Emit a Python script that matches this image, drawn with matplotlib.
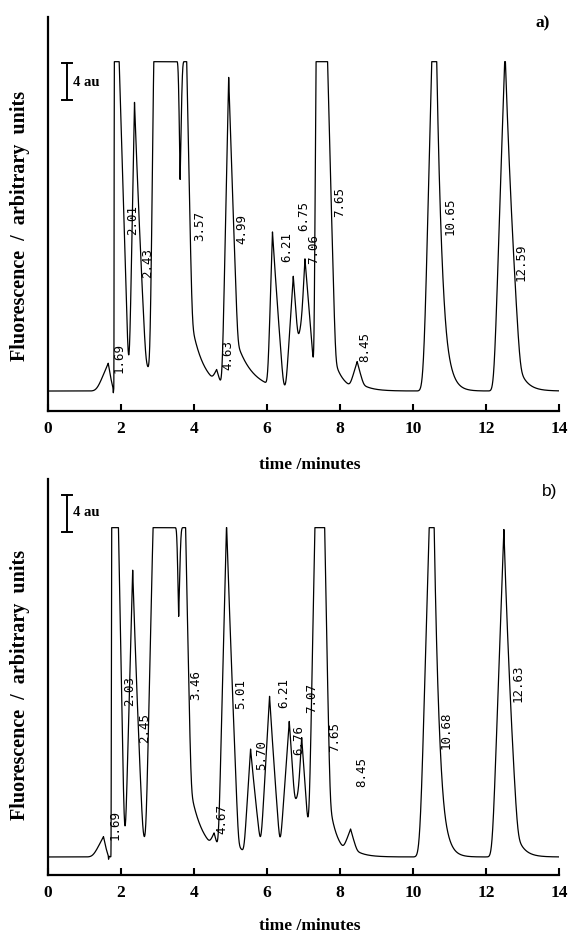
import math
import numpy as np
import matplotlib
matplotlib.use("Agg")
import matplotlib.pyplot as plt

# ---------------- data ----------------
FULL_SCALE = 35.6          # recorder full-scale (au above baseline)
time_ticks = [0, 2, 4, 6, 8, 10, 12, 14]

# panel a) peaks: top start / top end (min), height (au), rise & fall width (min),
# tail fraction, tail time (min), foot rounding (min)
a_top_start = [1.65, 1.79, 1.815, 2.37, 2.90, 3.62, 4.62, 4.95, 6.15, 6.72, 7.04, 7.34, 8.47, 10.51, 12.52]
a_top_end   = [1.65, 1.79, 1.95, 2.37, 3.80, 3.62, 4.62, 4.95, 6.15, 6.72, 7.04, 7.66, 8.47, 10.65, 12.52]
a_height    = [3.0, -0.5, 35.6, 31.2, 35.6, -12.8, 1.3, 33.5, 16.6, 12.2, 14.2, 35.6, 2.9, 35.6, 37.0]
a_rise      = [0.32, 0.012, 0.008, 0.15, 0.105, 0.05, 0.12, 0.18, 0.13, 0.20, 0.19, 0.05, 0.20, 0.22, 0.305]
a_fall      = [0.13, 0.012, 0.27, 0.31, 0.15, 0.06, 0.12, 0.25, 0.30, 0.23, 0.29, 0.22, 0.18, 0.25, 0.42]
a_tail_frac = [0, 0, 0, 0.35, 0.3, 0, 0, 0.25, 0.1, 0, 0, 0.2, 0.3, 0.9, 0.4]
a_tail_time = [0.1, 0.1, 0.1, 0.25, 0.35, 0.1, 0.1, 0.45, 0.15, 0.1, 0.1, 0.25, 0.3, 0.16, 0.22]
a_round     = [0.08, 0.03, 0.03, 0.03, 0.03, 0.03, 0.04, 0.03, 0.03, 0.03, 0.03, 0.03, 0.04, 0.06, 0.05]

a_labels  = ["1.69", "2.01", "2.43", "3.57", "4.63", "4.99", "6.21", "6.75", "7.06", "7.65", "8.45", "10.65", "12.59"]
a_label_t = [1.95, 2.33, 2.74, 4.15, 4.93, 5.32, 6.55, 7.01, 7.29, 8.00, 8.68, 11.01, 12.96]
a_label_y = [3.6, 18.5, 13.8, 17.8, 3.9, 17.5, 15.6, 18.9, 15.4, 20.4, 4.8, 18.9, 13.9]

# panel b) peaks
b_top_start = [1.52, 1.66, 1.74, 2.32, 2.88, 3.58, 4.55, 4.89, 5.55, 6.07, 6.61, 6.95, 7.31, 8.29, 10.44, 12.49]
b_top_end   = [1.52, 1.66, 1.93, 2.32, 3.77, 3.58, 4.55, 4.89, 5.55, 6.07, 6.61, 6.95, 7.58, 8.29, 10.58, 12.49]
b_height    = [2.2, -0.4, 35.6, 31.0, 35.6, -9.6, 1.45, 35.8, 11.4, 17.3, 14.6, 12.9, 35.6, 2.6, 35.6, 35.4]
b_rise      = [0.29, 0.012, 0.01, 0.21, 0.20, 0.05, 0.12, 0.22, 0.18, 0.25, 0.26, 0.19, 0.17, 0.20, 0.25, 0.32]
b_fall      = [0.12, 0.012, 0.17, 0.28, 0.15, 0.06, 0.12, 0.33, 0.30, 0.30, 0.25, 0.23, 0.15, 0.18, 0.25, 0.38]
b_tail_frac = [0, 0, 0, 0.3, 0.3, 0, 0, 0.15, 0.1, 0.1, 0, 0, 0.3, 0.3, 0.9, 0.4]
b_tail_time = [0.1, 0.1, 0.1, 0.2, 0.35, 0.1, 0.1, 0.2, 0.15, 0.15, 0.1, 0.1, 0.22, 0.3, 0.15, 0.2]
b_round     = [0.08, 0.03, 0.03, 0.03, 0.03, 0.03, 0.04, 0.03, 0.03, 0.03, 0.03, 0.03, 0.03, 0.04, 0.06, 0.05]

b_labels  = ["1.69", "2.03", "2.45", "3.46", "4.67", "5.01", "5.70", "6.21", "6.76", "7.07", "7.65", "8.45", "10.68", "12.63"]
b_label_t = [1.84, 2.25, 2.66, 4.05, 4.77, 5.29, 5.84, 6.47, 6.88, 7.23, 7.84, 8.60, 10.90, 12.88]
b_label_y = [3.5, 17.9, 13.9, 18.6, 4.1, 17.6, 11.0, 17.7, 12.6, 17.2, 13.0, 9.2, 13.7, 18.8]

SCALE_AU = 4

_erf = np.vectorize(math.erf)


def soft_ramp(x, d):
    """max(0, x) with its corner rounded over a half-width d."""
    z = x / d
    cdf = 0.5 * (1 + _erf(z / math.sqrt(2)))
    pdf = np.exp(-0.5 * z * z) / math.sqrt(2 * math.pi)
    return x * cdf + d * pdf


def chromatogram(t, starts, ends, heights, rises, falls, fracs, taus, rounds):
    y = np.zeros_like(t)
    for t1, t2, h, wl, wr, f, tau, r in zip(starts, ends, heights, rises, falls, fracs, taus, rounds):
        p = np.zeros_like(t)
        left = (t < t1) & (t > t1 - 2 * wl - 0.4)
        p[left] = soft_ramp(1 - (t1 - t[left]) / wl, min(0.35, r / wl))
        mid = (t >= t1) & (t <= t2)
        p[mid] = 1.0
        right = t > t2
        u = t[right] - t2
        core = np.zeros_like(u)
        near = u < 2 * wr + 0.4
        core[near] = soft_ramp(1 - u[near] / wr, min(0.35, r / wr))
        p[right] = (1 - f) * core + f * np.exp(-u / tau)
        y += h * p
    return np.minimum(y, FULL_SCALE)


W, H = 569, 933
fig = plt.figure(figsize=(W / 100, H / 100), dpi=100)
fig.patch.set_facecolor("white")

serif = ["Liberation Serif", "DejaVu Serif"]
mono = ["DejaVu Sans Mono"]

t = np.linspace(0, 14, 28001)

panels = [
    dict(rect=(48, 17, 559, 411), ylim=(-2.16, 40.43), bar_y=31.46, au_y=33.4,
         peaks=(a_top_start, a_top_end, a_height, a_rise, a_fall, a_tail_frac, a_tail_time, a_round),
         labels=(a_labels, a_label_t, a_label_y), tag="a)", tag_xy=(543, 23), tag_font=serif, tag_weight="bold",
         ylab_y=226, xlab_y=465),
    dict(rect=(48, 479, 559, 875), ylim=(-1.95, 40.86), bar_y=35.14, au_y=37.2,
         peaks=(b_top_start, b_top_end, b_height, b_rise, b_fall, b_tail_frac, b_tail_time, b_round),
         labels=(b_labels, b_label_t, b_label_y), tag="b)", tag_xy=(550, 492), tag_font=["Liberation Sans"], tag_weight="normal",
         ylab_y=685, xlab_y=926),
]

for P in panels:
    x0, y0, x1, y1 = P["rect"]
    ax = fig.add_axes([x0 / W, 1 - y1 / H, (x1 - x0) / W, (y1 - y0) / H])
    ax.set_xlim(0, 14)
    ax.set_ylim(*P["ylim"])
    ax.patch.set_alpha(0)
    for s in ("top", "right"):
        ax.spines[s].set_visible(False)
    for s in ("left", "bottom"):
        ax.spines[s].set_linewidth(1.6)
    ax.set_yticks([])
    ax.set_xticks(time_ticks)
    ax.set_xticklabels([str(v) for v in time_ticks], fontfamily=serif, fontweight="bold", fontsize=12.5)
    ax.tick_params(axis="x", direction="in", length=5, width=1.5, pad=7)

    y = chromatogram(t, *P["peaks"])
    ax.plot(t, y, color="black", lw=0.9, solid_joinstyle="round")

    labs, lt, ly = P["labels"]
    for s, xt, yv in zip(labs, lt, ly):
        ax.text(xt, yv, s, rotation=90, ha="center", va="center", fontfamily=mono, fontsize=9, color="black")

    # 4 au scale bar
    bx = 0.52
    by = P["bar_y"]
    ax.plot([bx, bx], [by, by + SCALE_AU], color="black", lw=1.4)
    ax.plot([bx - 0.14, bx + 0.14], [by, by], color="black", lw=1.4)
    ax.plot([bx - 0.14, bx + 0.14], [by + SCALE_AU, by + SCALE_AU], color="black", lw=1.4)
    ax.text(0.685, P["au_y"], "4 au", ha="left", va="center", fontfamily=serif, fontweight="bold", fontsize=10.5)

    fig.text(P["tag_xy"][0] / W, 1 - P["tag_xy"][1] / H, P["tag"], ha="center", va="center",
             fontfamily=P["tag_font"], fontweight=P["tag_weight"], fontsize=12.5)
    fig.text(20 / W, 1 - P["ylab_y"] / H, "Fluorescence  /  arbitrary  units", rotation=90,
             ha="center", va="center", fontfamily=serif, fontweight="bold", fontsize=14.5)
    fig.text(310 / W, 1 - P["xlab_y"] / H, "time /minutes", ha="center", va="center",
             fontfamily=serif, fontweight="bold", fontsize=12.5)

fig.savefig("out.png", dpi=100, facecolor="white")
